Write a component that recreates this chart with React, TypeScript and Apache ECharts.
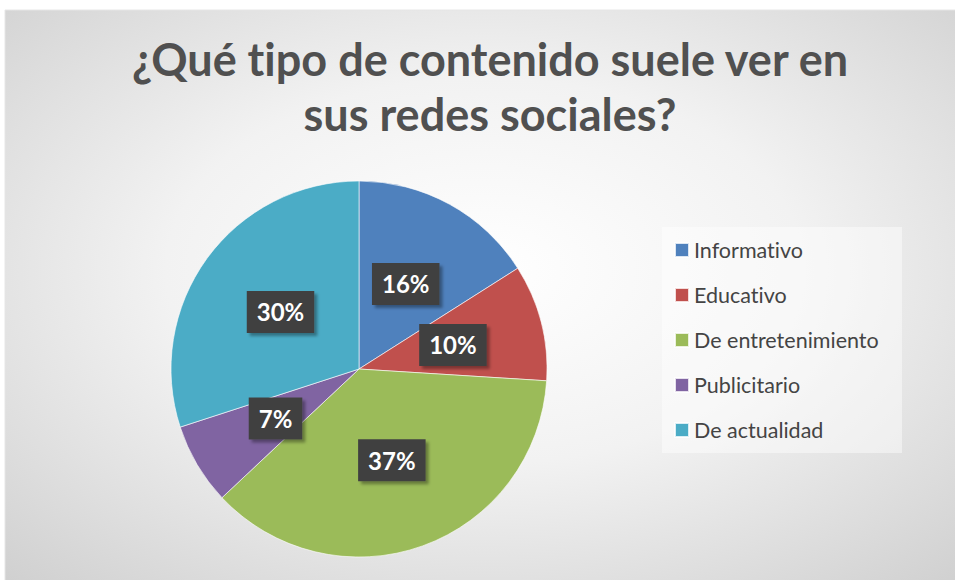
import React, { useEffect, useRef } from "react";
import * as echarts from "echarts";

const titleLines = ["¿Qué tipo de contenido suele ver en", "sus redes sociales?"];
const categories = ["Informativo", "Educativo", "De entretenimiento", "Publicitario", "De actualidad"];
const values = [16, 10, 37, 7, 30];
const colors = ["#4F81BD", "#C0504D", "#9BBB59", "#8064A2", "#4BACC6"];

export default function App() {
  const ref = useRef<HTMLDivElement>(null);
  useEffect(() => {
    if (!ref.current) return;
    const chart = echarts.init(ref.current, undefined, { renderer: "svg" });
    const font = "Lato, 'Noto Sans', sans-serif";
    chart.setOption({
      animation: false,
      graphic: [
        {
          type: "rect",
          z: -10,
          shape: { x: 5, y: 10, width: 960, height: 580 },
          style: {
            fill: {
              type: "radial",
              x: 0.5,
              y: 0.45,
              r: 0.95,
              colorStops: [
                { offset: 0, color: "#ffffff" },
                { offset: 0.35, color: "#f2f2f2" },
                { offset: 1, color: "#bdbdbd" },
              ],
            },
            stroke: "#e6e6e6",
            lineWidth: 1,
          },
          silent: true,
        },
        {
          type: "rect",
          z: -5,
          shape: { x: 662, y: 227, width: 240, height: 226 },
          style: { fill: "rgba(255,255,255,0.45)" },
          silent: true,
        },
      ],
      title: {
        text: titleLines.join("\n"),
        left: 485,
        top: 26,
        textAlign: "center",
        textStyle: {
          fontFamily: font,
          fontWeight: "bold",
          fontSize: 45,
          lineHeight: 55,
          color: "#505050",
        },
      },
      legend: {
        orient: "vertical",
        left: 669,
        top: 234,
        padding: 5,
        itemWidth: 14,
        itemHeight: 14,
        itemGap: 23,
        icon: "rect",
        data: categories,
        textStyle: {
          fontFamily: font,
          fontSize: 21.5,
          lineHeight: 21,
          color: "#444444",
        },
      },
      series: [
        {
          type: "pie",
          center: [359, 369],
          radius: 188,
          startAngle: 90,
          clockwise: true,
          data: categories.map((name, i) => ({
            name,
            value: values[i],
            itemStyle: { color: colors[i] },
          })),
          itemStyle: {
            borderColor: "rgba(255,255,255,0.8)",
            borderWidth: 0.75,
          },
          emphasis: { disabled: true },
          labelLine: { show: false },
          label: {
            show: true,
            position: "inside",
            formatter: (p: any) => p.value + "%",
            color: "#ffffff",
            fontFamily: font,
            fontWeight: "bold",
            fontSize: 24,
            lineHeight: 25,
            backgroundColor: "#404040",
            padding: [9, 10, 8, 10],
            shadowColor: "rgba(0,0,0,0.35)",
            shadowBlur: 3,
            shadowOffsetX: 3,
            shadowOffsetY: 3,
          },
        },
      ],
    });
    return () => chart.dispose();
  }, []);
  return (
    <>
      <style>{"svg text { font-variant-ligatures: none !important; font-feature-settings: 'liga' 0, 'clig' 0 !important; }"}</style>
      <div
        ref={ref}
        style={{ position: "absolute", left: 0, top: 0, width: 955, height: 580, background: "#ffffff" }}
      />
    </>
  );
}
